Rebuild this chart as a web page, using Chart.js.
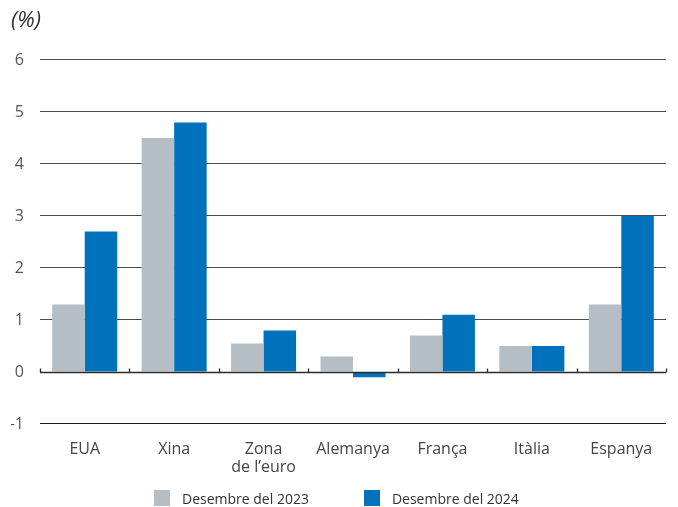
<!DOCTYPE html>
<html>
<head>
<meta charset="utf-8">
<style>
  html, body { margin: 0; padding: 0; background: #fff; }
  #wrap { position: relative; width: 678px; height: 507px; }
  #legend {
    position: absolute; left: 154px; top: 490px;
    display: flex; gap: 55px;
    font-family: "Open Sans", "Noto Sans", sans-serif; font-size: 14px; color: #333;
  }
  #legend .item { display: flex; align-items: center; height: 16px; }
  #legend .box { width: 16px; height: 16px; margin-right: 12px; }
</style>
<script src="https://cdn.jsdelivr.net/npm/chart.js@4"></script>
</head>
<body>
<div id="wrap">
  <canvas id="growthChart" width="678" height="507"></canvas>
  <div id="legend"></div>
</div>
<script>
const categories = ['EUA', 'Xina', ['Zona', 'de l\u2019euro'], 'Alemanya', 'França', 'Itàlia', 'Espanya'];
const dec2023 = [1.3, 4.5, 0.55, 0.3, 0.7, 0.5, 1.3];
const dec2024 = [2.7, 4.8, 0.8, -0.1, 1.1, 0.5, 3.0];
const seriesNames = ['Desembre del 2023', 'Desembre del 2024'];
const seriesColors = ['#b4bec4', '#0071bb'];
const yMin = -1;
const yMax = 6;

const FONT = '"Open Sans", "Noto Sans", sans-serif';

// Zero line with small upward ticks at the category boundaries
const zeroAxis = {
    id: 'zeroAxis',
    afterDatasetsDraw(chart) {
        const { ctx, chartArea, scales: { x, y } } = chart;
        const y0 = Math.round(y.getPixelForValue(0)) + 0.5;
        const step = x.width / chart.data.labels.length;
        ctx.save();
        ctx.strokeStyle = '#2b2b2b';
        ctx.lineWidth = 1.3;
        ctx.beginPath();
        ctx.moveTo(chartArea.left, y0);
        ctx.lineTo(chartArea.right, y0);
        for (let i = 0; i <= chart.data.labels.length; i++) {
            const bx = Math.round(x.getPixelForValue(0) - step / 2 + i * step) + 0.5;
            ctx.moveTo(bx, y0);
            ctx.lineTo(bx, y0 - 4);
        }
        ctx.stroke();
        ctx.restore();
    }
};

const chart = new Chart(document.getElementById('growthChart'), {
    type: 'bar',
    data: {
        labels: categories,
        datasets: [
            {
                label: seriesNames[0],
                data: dec2023,
                backgroundColor: seriesColors[0],
                categoryPercentage: 0.727,
                barPercentage: 1.0
            },
            {
                label: seriesNames[1],
                data: dec2024,
                backgroundColor: seriesColors[1],
                categoryPercentage: 0.727,
                barPercentage: 1.0
            }
        ]
    },
    options: {
        responsive: false,
        animation: false,
        layout: {
            padding: { top: 8, left: 11, right: 12, bottom: 23 }
        },
        scales: {
            x: {
                grid: { display: false },
                border: { display: false },
                ticks: {
                    color: '#444',
                    font: { family: FONT, size: 16, lineHeight: 1.15 },
                    padding: 8,
                    maxRotation: 0,
                    autoSkip: false
                },
                afterFit(scale) {
                    scale.height = 60;
                }
            },
            y: {
                min: yMin,
                max: yMax,
                border: { display: false },
                grid: {
                    drawTicks: false,
                    lineWidth: 1.1,
                    color: (c) => {
                        if (c.tick.value === 0) return 'rgba(0,0,0,0)';
                        if (c.tick.value === yMin) return '#1a1a1a';
                        return '#4a4a4a';
                    }
                },
                ticks: {
                    stepSize: 1,
                    color: '#555',
                    font: { family: FONT, size: 16 },
                    padding: 16
                },
                afterFit(scale) {
                    scale.width = 29;
                }
            }
        },
        plugins: {
            title: {
                display: true,
                text: '(%)',
                align: 'start',
                color: '#333',
                font: { family: FONT, size: 22, style: 'italic', weight: 'normal' },
                padding: { top: 0, bottom: 25.6 }
            },
            legend: { display: false },
            tooltip: { enabled: false }
        }
    },
    plugins: [zeroAxis]
});

// Legend under the chart, built from the datasets
const legendEl = document.getElementById('legend');
chart.data.datasets.forEach((ds) => {
    const item = document.createElement('div');
    item.className = 'item';
    const box = document.createElement('span');
    box.className = 'box';
    box.style.background = ds.backgroundColor;
    const text = document.createElement('span');
    text.textContent = ds.label;
    item.appendChild(box);
    item.appendChild(text);
    legendEl.appendChild(item);
});
</script>
</body>
</html>
